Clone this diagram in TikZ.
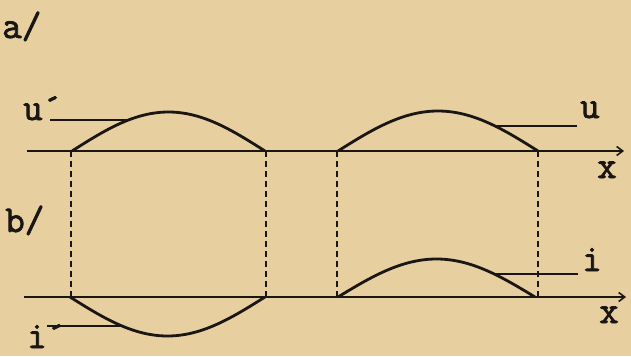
\documentclass[tikz,border=0pt]{standalone}
\usepackage{fontspec}
\newfontfamily\typew{Latin Modern Mono}[FakeBold=2]
\usetikzlibrary{arrows.meta}
\definecolor{paper}{RGB}{231,207,160}
\definecolor{ink}{RGB}{25,22,20}
\begin{document}
\begin{tikzpicture}[x=1pt,y=-1pt,
  lbl/.style={inner sep=0pt,anchor=base west,font=\fontsize{38}{40}\selectfont\typew,text=ink},
  axisline/.style={draw=ink,line width=2pt,-{Straight Barb[length=6pt,width=9pt,line width=1.6pt]}},
  wave/.style={draw=ink,line width=2.8pt},
  guide/.style={draw=ink,line width=1.3pt,dash pattern=on 6pt off 4pt},
  pointer/.style={draw=ink,line width=1.8pt}]
\fill[paper] (0,0) rectangle (631,356);
\useasboundingbox (0,0) rectangle (631,356);
% labels
\node[lbl] (la) at (2,38) {a/};
\node[lbl] (lb) at (5,232) {b/};
\node[lbl] (lu1) at (23,120) {u´};
\node[lbl] (lu) at (580,118) {u};
\node[lbl] (lx1) at (597,178) {x};
\node[lbl] (li) at (582,271) {i};
\node[lbl] (lx2) at (599,323) {x};
\node[lbl] (li1) at (27,348) {i´};
% axes
\coordinate (a1s) at (27,151); \coordinate (a1e) at (624,151);
\coordinate (a2s) at (24,297); \coordinate (a2e) at (626,297);
\draw[axisline] (a1s) -- (a1e);
\draw[axisline] (a2s) -- (a2e);
% dashed guides
\foreach \n/\xx in {g1/71,g2/266,g3/337,g4/538}{
  \coordinate (\n t) at (\xx,151); \coordinate (\n b) at (\xx,297);
  \draw[guide] (\n t) -- (\n b);
}
% arches
\draw[wave] plot[domain=0:1,samples=60,smooth] ({72+193*\x},{151-39*sin(180*\x)});
\draw[wave] plot[domain=0:1,samples=60,smooth] ({338+200*\x},{151-40*sin(180*\x)});
\draw[wave] plot[domain=0:1,samples=60,smooth] ({70+195*\x},{297+39*sin(180*\x)});
\draw[wave] plot[domain=0:1,samples=60,smooth] ({338+197*\x},{297-38*sin(180*\x)});
% pointers
\coordinate (pu1a) at (130,120); \coordinate (pu1b) at (50,120);
\coordinate (pua) at (495,126); \coordinate (pub) at (577,126);
\coordinate (pia) at (495,274); \coordinate (pib) at (578,274);
\coordinate (pi1a) at (122,326); \coordinate (pi1b) at (47,326);
\draw[pointer] (pu1a) -- (pu1b);
\draw[pointer] (pua) -- (pub);
\draw[pointer] (pia) -- (pib);
\draw[pointer] (pi1a) -- (pi1b);
\end{tikzpicture}
\end{document}
